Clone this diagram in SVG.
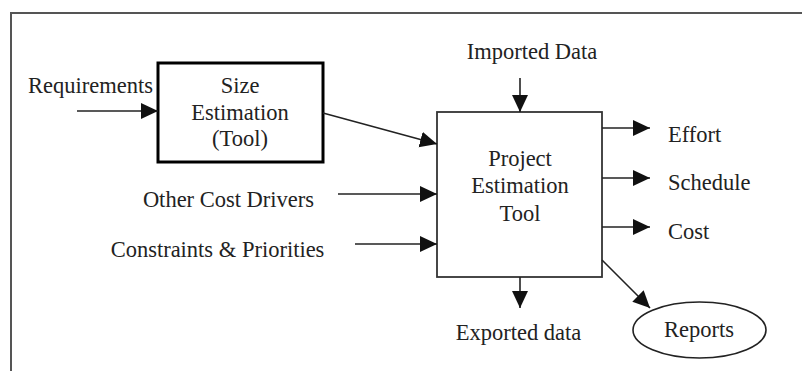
<svg xmlns="http://www.w3.org/2000/svg" width="802" height="371" viewBox="0 0 802 371">
<defs>
<marker id="ah" markerUnits="userSpaceOnUse" markerWidth="18" markerHeight="17" refX="17" refY="8" orient="auto">
<path d="M0,0 L17,8 L0,16 z" fill="#111"/>
</marker>
<style>
text{font-family:"Liberation Serif","Times New Roman",serif;font-size:22.5px;fill:#222}
.c{text-anchor:middle}
.ln{stroke:#222;stroke-width:1.6;fill:none}
</style>
</defs>
<rect width="802" height="371" fill="#fff"/>
<path d="M11,371 V13 H802" fill="none" stroke="#555" stroke-width="2"/>
<g id="size-estimation">
<rect x="158" y="63" width="165" height="99" fill="#fff" stroke="#000" stroke-width="3"/>
<text class="c" x="240" y="93">Size</text>
<text class="c" x="240" y="120">Estimation</text>
<text class="c" x="240" y="146">(Tool)</text>
</g>
<g id="project-estimation">
<rect x="437" y="112" width="165" height="165" fill="#fff" stroke="#333" stroke-width="1.8"/>
<text class="c" x="520" y="166">Project</text>
<text class="c" x="520" y="193">Estimation</text>
<text class="c" x="520" y="221">Tool</text>
</g>
<g id="reports">
<ellipse cx="699.5" cy="330" rx="66.5" ry="28" fill="#fff" stroke="#222" stroke-width="1.6"/>
<text class="c" x="699" y="337">Reports</text>
</g>
<g id="labels">
<text x="28" y="93">Requirements</text>
<text class="c" x="532" y="59">Imported Data</text>
<text x="668" y="142">Effort</text>
<text x="668" y="190">Schedule</text>
<text x="668" y="239">Cost</text>
<text class="c" x="228.5" y="207">Other Cost Drivers</text>
<text class="c" x="217.5" y="257">Constraints &amp; Priorities</text>
<text class="c" x="518.5" y="340">Exported data</text>
</g>
<g id="connectors">
<line class="ln" x1="77" y1="111" x2="158" y2="111" marker-end="url(#ah)"/>
<line class="ln" x1="323" y1="113" x2="437" y2="144" marker-end="url(#ah)"/>
<line class="ln" x1="338" y1="194" x2="437" y2="194" marker-end="url(#ah)"/>
<line class="ln" x1="355" y1="244" x2="437" y2="244" marker-end="url(#ah)"/>
<line class="ln" x1="520" y1="78" x2="520" y2="112" marker-end="url(#ah)"/>
<line class="ln" x1="520" y1="277" x2="520" y2="308" marker-end="url(#ah)"/>
<line class="ln" x1="602" y1="128" x2="650" y2="128" marker-end="url(#ah)"/>
<line class="ln" x1="602" y1="178" x2="650" y2="178" marker-end="url(#ah)"/>
<line class="ln" x1="602" y1="227" x2="650" y2="227" marker-end="url(#ah)"/>
<line class="ln" x1="602" y1="260" x2="650" y2="308" marker-end="url(#ah)"/>
</g>
</svg>
